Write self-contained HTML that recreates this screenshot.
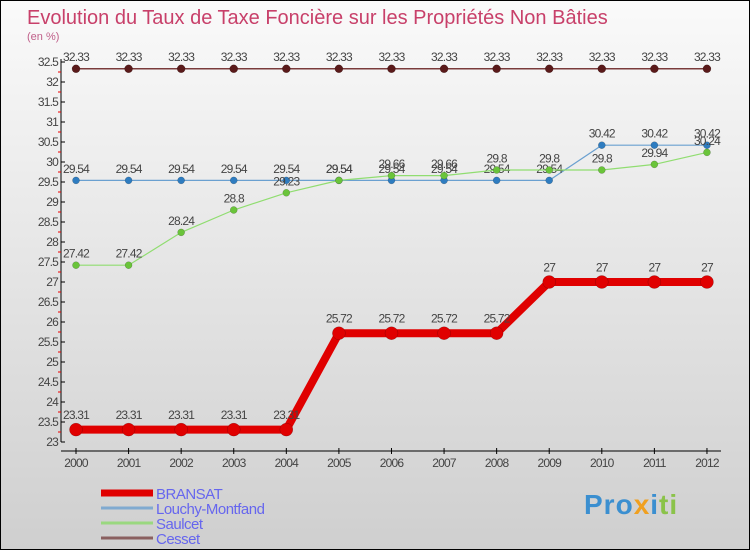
<!DOCTYPE html>
<html><head><meta charset="utf-8"><style>
body{margin:0}
#c{position:relative;width:748px;height:548px;border:1px solid #000;background:linear-gradient(#fafafa,#cfcfcf);font-family:"Liberation Sans",sans-serif;overflow:hidden}
svg{position:absolute;left:0;top:0}
</style></head><body>
<div id="c">
<svg id="s" width="748" height="548">
<text x="26" y="23" font-size="20" fill="#c8406a">Evolution du Taux de Taxe Foncière sur les Propriétés Non Bâties</text>
<text x="26" y="39" font-size="11" fill="#c0608a">(en %)</text>
</svg>
<div style="position:absolute;left:583px;top:488px;font-size:28px;font-weight:bold;letter-spacing:1px"><span style="color:#3b8fd0">Pro</span><span style="color:#f0a020">x</span><span style="color:#3b8fd0">i</span><span style="color:#8bc34a">ti</span></div>
</div>
<script>
const years=[2000,2001,2002,2003,2004,2005,2006,2007,2008,2009,2010,2011,2012];
const bransat=[23.31,23.31,23.31,23.31,23.31,25.72,25.72,25.72,25.72,27,27,27,27];
const louchy=[29.54,29.54,29.54,29.54,29.54,29.54,29.54,29.54,29.54,29.54,30.42,30.42,30.42];
const saulcet=[27.42,27.42,28.24,28.8,29.23,29.54,29.66,29.66,29.8,29.8,29.8,29.94,30.24];
const cesset=[32.33,32.33,32.33,32.33,32.33,32.33,32.33,32.33,32.33,32.33,32.33,32.33,32.33];
const yTicks=[23,23.5,24,24.5,25,25.5,26,26.5,27,27.5,28,28.5,29,29.5,30,30.5,31,31.5,32,32.5];
const s=document.getElementById('s'),NS='http://www.w3.org/2000/svg';
const X=i=>75+i*52.58, Y=v=>441-(v-23)*40;
function el(t,a,p){const e=document.createElementNS(NS,t);for(const k in a)e.setAttribute(k,a[k]);(p||s).appendChild(e);return e;}
let ax=el('line',{x1:60,y1:58,x2:60,y2:441,stroke:'#000'});


let xa=el('line',{x1:60,y1:450,x2:720,y2:450,stroke:'#000'});


yTicks.forEach(v=>{
 el('line',{x1:60,y1:Y(v),x2:64,y2:Y(v),stroke:'#000'});
 if(v<32.5)el('line',{x1:57,y1:Y(v+0.25),x2:60,y2:Y(v+0.25),stroke:'#e00'});
 const t=el('text',{x:57,y:Y(v)+4,'font-size':12,'text-anchor':'end',fill:'#444','letter-spacing':'-0.8'});t.textContent=v;
 
 
});
years.forEach((y,i)=>{
 el('line',{x1:X(i),y1:447,x2:X(i),y2:453,stroke:'#000'});
 const t=el('text',{x:X(i),y:466,'font-size':12,'text-anchor':'middle',fill:'#444','letter-spacing':'-0.8'});t.textContent=y;
 
 
});
function series(d,col,lw,r,dot,name){
 const g=el('g',{});
 
 
 el('polyline',{points:d.map((v,i)=>X(i)+','+Y(v)).join(' '),fill:'none',stroke:col,'stroke-width':lw},g);
 d.forEach((v,i)=>{
  const c=el('circle',{cx:X(i),cy:Y(v),r:r,fill:dot,stroke:'rgba(0,0,0,0.3)','stroke-width':0.5},g);
  
  
  const t=el('text',{x:X(i),y:Y(v)-(r+4),'font-size':12,'text-anchor':'middle',fill:'#444','letter-spacing':'-0.8'},g);t.textContent=v;
 });
}
series(cesset,'#7a3b3b',1.5,4,'#5a1a1a','cesset-series');
series(louchy,'#6aa0d0',1.2,3.5,'#2e7cc0','louchy-series');
series(saulcet,'#90dd70',1.2,3.5,'#6ac43a','saulcet-series');
series(bransat,'#e00000',8,6.5,'#e00000','bransat-series');
const leg=[['BRANSAT','#e00000',7],['Louchy-Montfand','#80aad0',3],['Saulcet','#9ad880',3],['Cesset','#8a6060',3]];
leg.forEach((l,i)=>{
 const y=492+i*15;
 const g=el('g',{});
 
 
 el('line',{x1:100,y1:y,x2:152,y2:y,stroke:l[1],'stroke-width':l[2]},g);
 const t=el('text',{x:155,y:y+6,'font-size':15,fill:'#6666ee','letter-spacing':'-0.5'},g);t.textContent=l[0];
});
</script>
</body></html>
